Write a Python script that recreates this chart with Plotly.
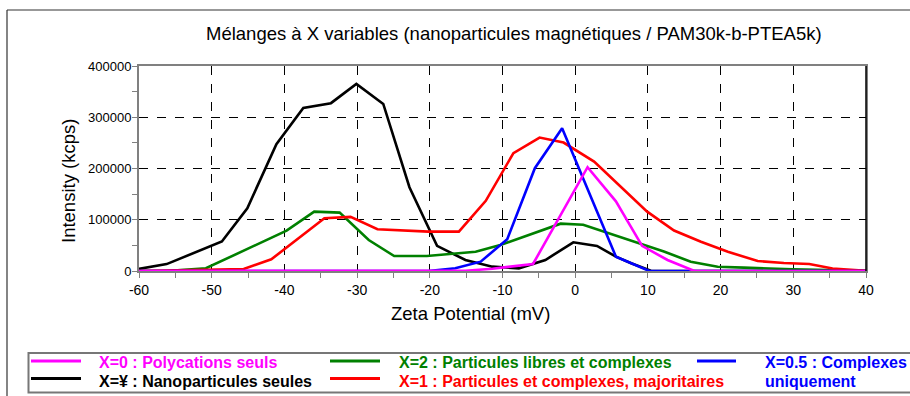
import plotly.graph_objects as go

# ---- data ----
x_black = [-60.3, -56.2, -48.6, -45.1, -41.1, -37.4, -33.6, -30.1, -26.4, -22.8, -19.0, -15.1, -11.4, -7.75, -4.1, -0.26, 3.0, 5.6, 7.7, 10.4, 14.0, 17.7, 21.4, 25.1, 28.7, 32.3, 36.0, 40.0]
y_black = [3500, 13500, 57500, 122500, 247500, 318000, 327500, 365000, 326000, 163500, 49000, 21500, 8500, 5200, 21500, 56000, 49000, 28000, 15000, 500, 0, 0, 0, 0, 0, 0, 0, 0]

x_green = [-60.3, -56.2, -50.8, -39.7, -35.9, -32.4, -28.4, -24.9, -20.4, -17.0, -13.7, -10.3, -5.2, -2.0, 1.1, 4.8, 8.5, 12.2, 15.9, 19.6, 23.2, 29.9, 40.0]
y_green = [0, 0, 5300, 78700, 115800, 113900, 60500, 29300, 29300, 33200, 37700, 50800, 76800, 92400, 90400, 73000, 55000, 38000, 18200, 8400, 6500, 3300, 500]

x_red = [-60.3, -45.6, -41.8, -34.5, -30.9, -27.2, -20.2, -16.0, -12.3, -8.5, -4.9, -1.6, 2.6, 6.2, 9.9, 13.6, 17.3, 21.0, 25.1, 28.7, 32.2, 35.4, 40.0]
y_red = [0, 3900, 22800, 103000, 105500, 81400, 76800, 76800, 137000, 230000, 260400, 250600, 213500, 164500, 115800, 79000, 57000, 37500, 19500, 15500, 13700, 5000, 600]

x_blue = [-60.3, -20.2, -16.5, -13.0, -9.35, -5.55, -1.8, 5.6, 10.2, 40.0]
y_blue = [0, 0, 5200, 18200, 62000, 200600, 278700, 28000, 0, 0]

x_magenta = [-60.3, -15.1, -11.4, -7.75, -5.8, 1.7, 5.6, 9.2, 12.7, 16.4, 40.0]
y_magenta = [0, 500, 4500, 9800, 13700, 202500, 136000, 49000, 21500, 0, 0]

x_ticks = [-60, -50, -40, -30, -20, -10, 0, 10, 20, 30, 40]
y_ticks = [0, 100000, 200000, 300000, 400000]

title_text = "Mélanges à X variables (nanoparticules magnétiques / PAM30k-b-PTEA5k)"
x_title = "Zeta Potential (mV)"
y_title = "Intensity (kcps)"
legend_rows = [
    ("X=0 : Polycations seuls", "#FF00FF", 0, 0),
    ("X=¥ : Nanoparticules seules", "#000000", 0, 1),
    ("X=2 : Particules libres et complexes", "#008000", 1, 0),
    ("X=1 : Particules et complexes, majoritaires", "#FF0000", 1, 1),
]

W, H = 910, 396
L, R, T, B = 139, 866, 66, 271
FONT = "Arial, Liberation Sans, sans-serif"


def px(x):
    return (x - L) / (R - L)


def py(y):
    return (B - y) / (B - T)


fig = go.Figure()
series = [
    (x_black, y_black, "#000000", "X=¥ : Nanoparticules seules"),
    (x_green, y_green, "#008000", "X=2 : Particules libres et complexes"),
    (x_red, y_red, "#FF0000", "X=1 : Particules et complexes, majoritaires"),
    (x_blue, y_blue, "#0000FF", "X=0.5 : Complexes uniquement"),
    (x_magenta, y_magenta, "#FF00FF", "X=0 : Polycations seuls"),
]
for xs, ys, c, n in series:
    fig.add_trace(go.Scatter(x=xs, y=ys, mode="lines", name=n,
                             line=dict(color=c, width=2.6), cliponaxis=False,
                             showlegend=False))

shapes = []
annotations = []

# outer frame
shapes.append(dict(type="line", xref="paper", yref="paper",
                   x0=px(7), x1=px(915), y0=py(10), y1=py(10),
                   line=dict(color="#333333", width=1.2)))
shapes.append(dict(type="line", xref="paper", yref="paper",
                   x0=px(7), x1=px(7), y0=py(10), y1=py(400),
                   line=dict(color="#333333", width=1.2)))
# right border black
shapes.append(dict(type="line", xref="paper", yref="paper",
                   x0=1, x1=1, y0=0, y1=1, line=dict(color="#000000", width=1.5)))

# legend box
shapes.append(dict(type="rect", xref="paper", yref="paper",
                   x0=px(28.5), x1=px(915), y0=py(392.5), y1=py(353),
                   line=dict(color="#777777", width=2)))
col_line_x = [(31, 81), (330, 380)]
col_text_x = [97, 397]
row_line_y = [361, 378.5]
row_text_y = [362.5, 381]
for text, color, col, row in legend_rows:
    x0, x1 = col_line_x[col]
    shapes.append(dict(type="line", xref="paper", yref="paper",
                       x0=px(x0), x1=px(x1), y0=py(row_line_y[row]), y1=py(row_line_y[row]),
                       line=dict(color=color, width=3)))
    annotations.append(dict(xref="paper", yref="paper", x=px(col_text_x[col]), y=py(row_text_y[row]),
                            text="<b>%s</b>" % text, showarrow=False, xanchor="left", yanchor="middle",
                            font=dict(family=FONT, size=16, color=color)))
shapes.append(dict(type="line", xref="paper", yref="paper",
                   x0=px(697), x1=px(736), y0=py(361), y1=py(361),
                   line=dict(color="#0000FF", width=3)))
annotations.append(dict(xref="paper", yref="paper", x=px(763), y=py(362.5),
                        text="<b>X=0.5 : Complexes</b>", showarrow=False, xanchor="left", yanchor="middle",
                        font=dict(family=FONT, size=16, color="#0000FF")))
annotations.append(dict(xref="paper", yref="paper", x=px(763), y=py(381),
                        text="<b>uniquement</b>", showarrow=False, xanchor="left", yanchor="middle",
                        font=dict(family=FONT, size=16, color="#0000FF")))

# title and axis titles
annotations.append(dict(xref="paper", yref="paper", x=px(514), y=py(33), text=title_text,
                        showarrow=False, xanchor="center", yanchor="middle",
                        font=dict(family=FONT, size=18.5, color="#000000")))
annotations.append(dict(xref="paper", yref="paper", x=px(470), y=py(313), text=x_title,
                        showarrow=False, xanchor="center", yanchor="middle",
                        font=dict(family=FONT, size=18.5, color="#000000")))
annotations.append(dict(xref="paper", yref="paper", x=px(68), y=py(181), text=y_title,
                        showarrow=False, xanchor="center", yanchor="middle", textangle=-90,
                        font=dict(family=FONT, size=18.5, color="#000000")))

axis_common = dict(showline=True, linecolor="#808080", linewidth=2, mirror=True,
                   showgrid=True, gridcolor="#000000", griddash="dash", gridwidth=1,
                   ticks="outside", ticklen=5, tickcolor="#808080", tickwidth=1,
                   zeroline=False, tickfont=dict(family=FONT, size=14, color="#000000"))

fig.update_layout(
    width=W, height=H,
    margin=dict(l=L, r=W - R, t=T, b=H - B, pad=0),
    paper_bgcolor="white", plot_bgcolor="white",
    showlegend=False,
    shapes=shapes, annotations=annotations,
    xaxis=dict(range=[-60, 40], tickvals=x_ticks, ticktext=[str(v) for v in x_ticks],
               minor=dict(dtick=5, tick0=-60, ticks="outside", ticklen=5, tickcolor="#808080", showgrid=False),
               **axis_common),
    yaxis=dict(range=[0, 400000], tickvals=y_ticks, ticktext=[str(v) for v in y_ticks],
               minor=dict(dtick=50000, tick0=0, ticks="outside", ticklen=5, tickcolor="#808080", showgrid=False),
               ticklabelstandoff=-2,
               **{**axis_common, "tickfont": dict(family=FONT, size=13, color="#000000")}),
)

fig.write_html("out.html", config={"displayModeBar": False},
               post_script="document.body.style.margin='0px';")
